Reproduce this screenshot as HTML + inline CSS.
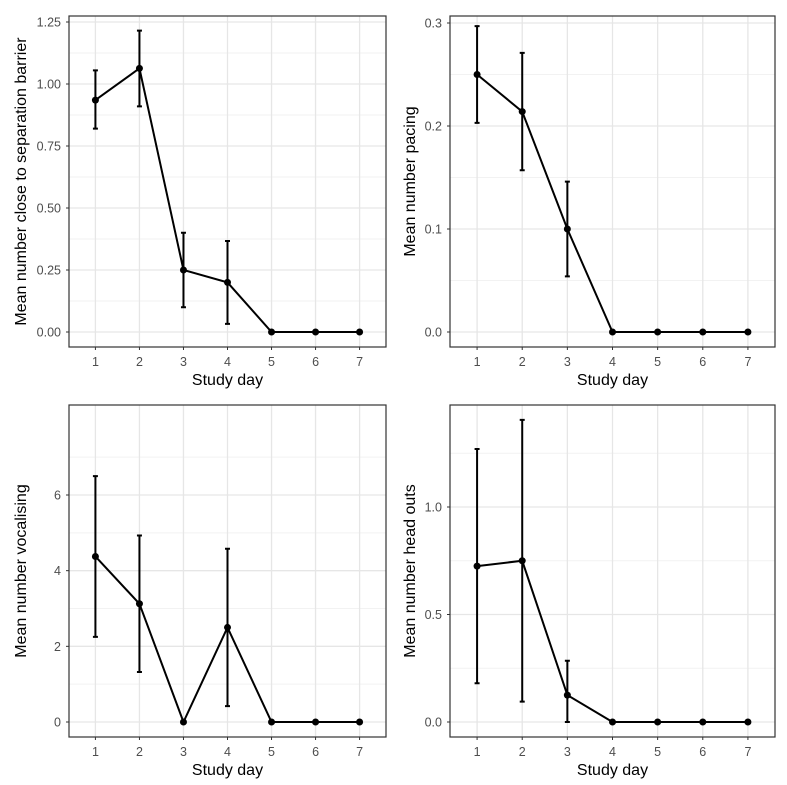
<!DOCTYPE html>
<html><head><meta charset="utf-8"><style>
body{margin:0;background:#fff;}
svg{display:block;font-family:"Liberation Sans",Arial,sans-serif;}
</style></head><body>
<svg id="c" width="787" height="785"></svg>
<script>
const days = [1,2,3,4,5,6,7];
const p1Mean = [0.935,1.063,0.25,0.20,0,0,0];
const p1Lo = [0.82,0.91,0.10,0.033,0,0,0];
const p1Hi = [1.055,1.215,0.40,0.367,0,0,0];
const p1Ticks = ["0.00","0.25","0.50","0.75","1.00","1.25"];
const p2Mean = [0.25,0.214,0.10,0,0,0,0];
const p2Lo = [0.203,0.157,0.054,0,0,0,0];
const p2Hi = [0.297,0.271,0.146,0,0,0,0];
const p2Ticks = ["0.0","0.1","0.2","0.3"];
const p3Mean = [4.375,3.125,0,2.5,0,0,0];
const p3Lo = [2.25,1.32,0,0.42,0,0,0];
const p3Hi = [6.5,4.93,0,4.58,0,0,0];
const p3Ticks = ["0","2","4","6"];
const p4Mean = [0.725,0.75,0.125,0,0,0,0];
const p4Lo = [0.18,0.095,0,0,0,0,0];
const p4Hi = [1.27,1.405,0.285,0,0,0,0];
const p4Ticks = ["0.0","0.5","1.0"];

const NS="http://www.w3.org/2000/svg";
const svg=document.getElementById('c');
function mk(tag,attrs,parent){const e=document.createElementNS(NS,tag);for(const k in attrs)e.setAttribute(k,attrs[k]);(parent||svg).appendChild(e);return e;}

function panel(cfg,mean,lo,hi,ticks,name){
  const g=mk('g',{});
  
  
  const {x0,x1,y0,y1,vmin,vmax,ymin,ymax,title}=cfg;
  const sx=d=>x0+(d-0.4)/7.2*(x1-x0);
  const sy=v=>ymin+(v-vmin)/(vmax-vmin)*(ymax-ymin);
  const tv=ticks.map(Number);
  const step=tv[1]-tv[0];
  for(let v=tv[0]-step/2; v<=tv[tv.length-1]+step; v+=step){
    const y=sy(v); if(y<y0||y>y1)continue;
    const l=mk('line',{x1:x0,x2:x1,y1:y,y2:y,stroke:'#f2f2f2','stroke-width':1},g);
    
    
  }
  tv.forEach((v,i)=>{
    const y=sy(v);
    const l=mk('line',{x1:x0,x2:x1,y1:y,y2:y,stroke:'#e6e6e6','stroke-width':1.3},g);
    
    
    mk('line',{x1:x0-3,x2:x0,y1:y,y2:y,stroke:'#333','stroke-width':1},g);
    const t=mk('text',{x:x0-8,y:y+4.5,'text-anchor':'end','font-size':12.5,fill:'#4d4d4d'},g);
    t.textContent=ticks[i];
    
    
  });
  days.forEach(d=>{
    const x=sx(d);
    const l=mk('line',{x1:x,x2:x,y1:y0,y2:y1,stroke:'#e6e6e6','stroke-width':1.3},g);
    
    
    mk('line',{x1:x,x2:x,y1:y1,y2:y1+3,stroke:'#333','stroke-width':1},g);
    const t=mk('text',{x:x,y:y1+19,'text-anchor':'middle','font-size':12.5,fill:'#4d4d4d'},g);
    t.textContent=d;
    
    
  });
  const box=mk('rect',{x:x0,y:y0,width:x1-x0,height:y1-y0,fill:'none',stroke:'#333','stroke-width':1.2},g);
  
  
  days.forEach((d,i)=>{
    if(hi[i]===lo[i])return;
    const x=sx(d);
    const eb=mk('path',{d:`M${x-2.5},${sy(hi[i])}H${x+2.5}M${x},${sy(hi[i])}V${sy(lo[i])}M${x-2.5},${sy(lo[i])}H${x+2.5}`,stroke:'#000','stroke-width':2,fill:'none'},g);
    
    
  });
  const line=mk('polyline',{points:days.map((d,i)=>sx(d)+','+sy(mean[i])).join(' '),fill:'none',stroke:'#000','stroke-width':2},g);
  
  
  days.forEach((d,i)=>{
    const c=mk('circle',{cx:sx(d),cy:sy(mean[i]),r:3.5,fill:'#000'},g);
    
    
  });
  const xt=mk('text',{x:(x0+x1)/2,y:y1+38,'text-anchor':'middle','font-size':16,fill:'#000'},g);
  xt.textContent='Study day';
  
  
  const cy=(y0+y1)/2, tx=cfg.tx;
  const yt=mk('text',{x:tx,y:cy,'text-anchor':'middle','font-size':16,fill:'#000',transform:`rotate(-90 ${tx} ${cy})`},g);
  yt.textContent=title;
  
  
}
panel({x0:69,x1:386,y0:16,y1:347,vmin:0,vmax:1.25,ymin:332,ymax:22,title:'Mean number close to separation barrier',tx:26},p1Mean,p1Lo,p1Hi,p1Ticks,'panel-close-to-barrier');
panel({x0:450,x1:775,y0:16,y1:347,vmin:0,vmax:0.3,ymin:332,ymax:23,title:'Mean number pacing',tx:415},p2Mean,p2Lo,p2Hi,p2Ticks,'panel-pacing');
panel({x0:69,x1:386,y0:405,y1:737,vmin:0,vmax:6,ymin:722,ymax:495,title:'Mean number vocalising',tx:26},p3Mean,p3Lo,p3Hi,p3Ticks,'panel-vocalising');
panel({x0:450,x1:775,y0:405,y1:737,vmin:0,vmax:1,ymin:722,ymax:507,title:'Mean number head outs',tx:415},p4Mean,p4Lo,p4Hi,p4Ticks,'panel-head-outs');
</script>
</body></html>
